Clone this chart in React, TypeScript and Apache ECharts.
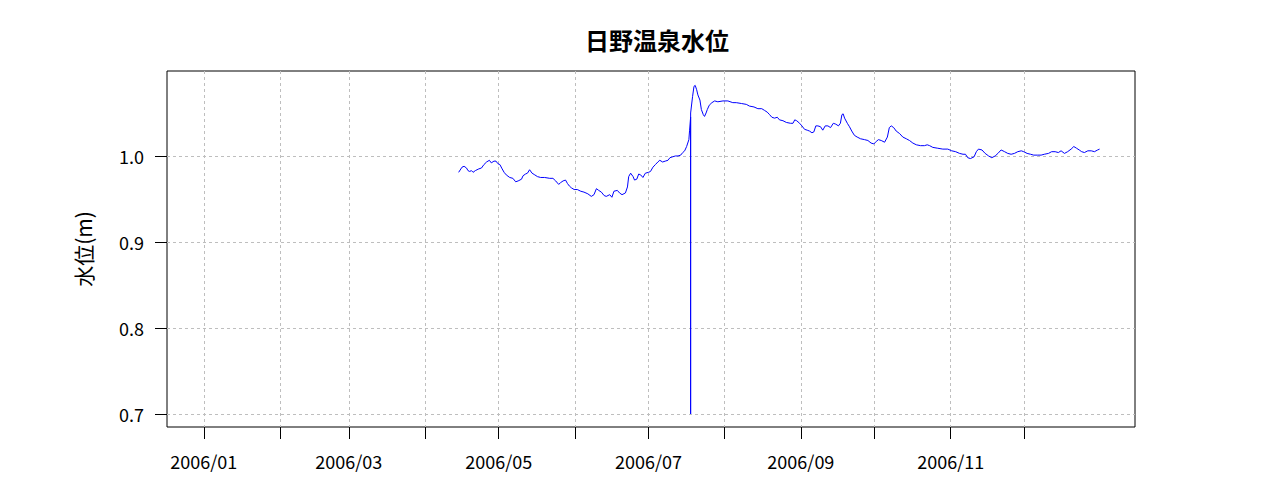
import React, { useEffect, useRef } from "react";
import * as echarts from "echarts";

const titleText = "日野温泉水位";
const yAxisName = "水位(m)";

const times = [
  "2006-04-14 17:00","2006-04-16 02:00","2006-04-16 22:00","2006-04-17 22:00","2006-04-18 12:00","2006-04-19 05:00","2006-04-19 22:00","2006-04-20 14:00","2006-04-21 12:00","2006-04-22 22:00",
  "2006-04-24 00:00","2006-04-25 00:00","2006-04-26 02:00","2006-04-27 05:00","2006-04-28 00:00","2006-04-29 02:00","2006-04-29 22:00","2006-04-30 17:00","2006-05-01 12:00","2006-05-02 10:00",
  "2006-05-03 05:00","2006-05-04 02:00","2006-05-05 12:00","2006-05-06 19:00","2006-05-07 22:00","2006-05-08 22:00","2006-05-10 07:00","2006-05-10 22:00","2006-05-11 22:00","2006-05-12 17:00",
  "2006-05-13 14:00","2006-05-14 14:00","2006-05-15 17:00","2006-05-16 19:00","2006-05-18 02:00","2006-05-19 17:00","2006-05-21 19:00","2006-05-23 02:00","2006-05-24 05:00","2006-05-25 10:00",
  "2006-05-26 05:00","2006-05-27 05:00","2006-05-28 05:00","2006-05-29 00:00","2006-05-29 19:00","2006-05-30 14:00","2006-05-31 17:00","2006-06-02 00:00","2006-06-03 10:00","2006-06-04 17:00",
  "2006-06-06 07:00","2006-06-07 17:00","2006-06-08 19:00","2006-06-09 19:00","2006-06-10 17:00","2006-06-11 19:00","2006-06-12 22:00","2006-06-13 19:00","2006-06-15 05:00","2006-06-16 02:00",
  "2006-06-16 22:00","2006-06-18 07:00","2006-06-19 05:00","2006-06-20 05:00","2006-06-21 14:00","2006-06-22 10:00","2006-06-22 22:00","2006-06-23 17:00","2006-06-24 17:00","2006-06-25 07:00",
  "2006-06-26 05:00","2006-06-27 00:00","2006-06-27 19:00","2006-06-28 17:00","2006-06-29 17:00","2006-07-01 00:00","2006-07-01 19:00","2006-07-02 19:00","2006-07-03 19:00","2006-07-04 19:00",
  "2006-07-05 14:00","2006-07-06 17:00","2006-07-07 19:00","2006-07-08 22:00","2006-07-09 17:00","2006-07-10 19:00","2006-07-11 22:00","2006-07-13 00:00","2006-07-14 02:00","2006-07-14 22:00",
  "2006-07-15 17:00","2006-07-16 12:00","2006-07-17 10:00","2006-07-17 17:00","2006-07-18 03:00","2006-07-18 03:05","2006-07-18 03:10","2006-07-18 22:00","2006-07-19 12:00","2006-07-20 00:00",
  "2006-07-20 14:00","2006-07-21 02:00","2006-07-21 22:00","2006-07-22 12:00","2006-07-23 07:00","2006-07-23 19:00","2006-07-24 10:00","2006-07-24 22:00","2006-07-25 17:00","2006-07-26 19:00",
  "2006-07-27 22:00","2006-07-29 05:00","2006-07-31 07:00","2006-08-02 07:00","2006-08-04 07:00","2006-08-05 17:00","2006-08-07 19:00","2006-08-09 19:00","2006-08-11 02:00","2006-08-12 22:00",
  "2006-08-14 12:00","2006-08-16 02:00","2006-08-17 05:00","2006-08-18 07:00","2006-08-19 07:00","2006-08-20 05:00","2006-08-21 07:00","2006-08-22 10:00","2006-08-23 07:00","2006-08-24 17:00",
  "2006-08-26 02:00","2006-08-27 19:00","2006-08-28 19:00","2006-08-29 12:00","2006-08-30 07:00","2006-08-31 12:00","2006-09-01 10:00","2006-09-02 12:00","2006-09-03 14:00","2006-09-04 12:00",
  "2006-09-05 12:00","2006-09-06 07:00","2006-09-07 02:00","2006-09-07 22:00","2006-09-09 00:00","2006-09-09 22:00","2006-09-10 22:00","2006-09-12 00:00","2006-09-13 02:00","2006-09-14 05:00",
  "2006-09-15 05:00","2006-09-16 07:00","2006-09-17 02:00","2006-09-17 17:00","2006-09-18 05:00","2006-09-18 19:00","2006-09-19 22:00","2006-09-20 19:00","2006-09-21 17:00","2006-09-22 19:00",
  "2006-09-23 22:00","2006-09-25 07:00","2006-09-26 22:00","2006-09-28 07:00","2006-09-29 14:00","2006-09-30 17:00","2006-10-01 17:00","2006-10-02 14:00","2006-10-03 17:00","2006-10-05 02:00",
  "2006-10-06 05:00","2006-10-07 00:00","2006-10-07 19:00","2006-10-08 19:00","2006-10-09 19:00","2006-10-11 05:00","2006-10-12 12:00","2006-10-13 22:00","2006-10-15 05:00","2006-10-16 14:00",
  "2006-10-18 00:00","2006-10-19 17:00","2006-10-21 07:00","2006-10-22 10:00","2006-10-23 10:00","2006-10-24 17:00","2006-10-26 17:00","2006-10-28 19:00","2006-10-30 19:00","2006-11-01 10:00",
  "2006-11-03 00:00","2006-11-04 14:00","2006-11-06 00:00","2006-11-07 00:00","2006-11-07 22:00","2006-11-09 00:00","2006-11-10 12:00","2006-11-11 10:00","2006-11-12 07:00","2006-11-13 17:00",
  "2006-11-15 00:00","2006-11-16 10:00","2006-11-17 17:00","2006-11-19 02:00","2006-11-20 05:00","2006-11-21 12:00","2006-11-22 22:00","2006-11-24 05:00","2006-11-25 14:00","2006-11-26 22:00",
  "2006-11-28 07:00","2006-11-29 17:00","2006-11-30 17:00","2006-12-02 02:00","2006-12-03 12:00","2006-12-04 19:00","2006-12-06 10:00","2006-12-07 19:00","2006-12-09 02:00","2006-12-10 19:00",
  "2006-12-12 02:00","2006-12-13 12:00","2006-12-14 19:00","2006-12-15 22:00","2006-12-17 07:00","2006-12-18 14:00","2006-12-20 00:00","2006-12-21 02:00","2006-12-22 05:00","2006-12-23 07:00",
  "2006-12-24 07:00","2006-12-25 10:00","2006-12-26 19:00","2006-12-28 05:00","2006-12-29 12:00","2006-12-30 19:00","2006-12-31 14:00"
];

const levels = [
  0.981,0.987,0.988,0.986,0.983,0.982,0.983,0.981,0.983,0.985,
  0.986,0.990,0.993,0.995,0.992,0.994,0.994,0.991,0.990,0.985,
  0.981,0.978,0.975,0.974,0.970,0.971,0.973,0.977,0.979,0.980,
  0.984,0.980,0.978,0.976,0.975,0.975,0.974,0.974,0.971,0.967,
  0.969,0.971,0.972,0.968,0.965,0.963,0.961,0.961,0.959,0.958,
  0.956,0.953,0.955,0.962,0.960,0.958,0.954,0.953,0.955,0.952,
  0.959,0.960,0.957,0.955,0.957,0.964,0.976,0.980,0.976,0.972,
  0.973,0.979,0.978,0.975,0.980,0.981,0.982,0.987,0.990,0.993,
  0.995,0.993,0.994,0.995,0.998,0.999,1.000,1.000,1.001,1.004,
  1.006,1.011,1.019,1.030,1.045,0.700,1.050,1.069,1.081,1.082,
  1.077,1.071,1.065,1.054,1.048,1.046,1.050,1.054,1.059,1.062,
  1.064,1.063,1.064,1.064,1.062,1.062,1.061,1.060,1.058,1.057,
  1.055,1.055,1.053,1.051,1.048,1.045,1.044,1.045,1.042,1.041,
  1.039,1.038,1.038,1.042,1.041,1.038,1.035,1.031,1.030,1.029,
  1.027,1.028,1.035,1.035,1.034,1.030,1.035,1.035,1.033,1.038,
  1.037,1.035,1.038,1.048,1.049,1.044,1.038,1.034,1.029,1.024,
  1.022,1.020,1.019,1.018,1.015,1.014,1.017,1.019,1.018,1.016,
  1.022,1.033,1.035,1.033,1.029,1.026,1.022,1.020,1.018,1.015,
  1.013,1.012,1.012,1.013,1.012,1.010,1.009,1.008,1.008,1.006,
  1.005,1.003,1.002,1.002,0.998,0.997,0.999,1.005,1.008,1.007,
  1.003,1.000,0.998,1.000,1.003,1.007,1.005,1.003,1.002,1.003,
  1.005,1.006,1.005,1.003,1.002,1.001,1.001,1.001,1.002,1.003,
  1.005,1.005,1.004,1.006,1.003,1.005,1.008,1.011,1.009,1.007,
  1.005,1.004,1.006,1.006,1.005,1.007,1.008
];

const tickMonths = [0, 1, 2, 3, 4, 5, 6, 7, 8, 9, 10, 11];
const labelMonths = [0, 2, 4, 6, 8, 10];
const yTicks = [0.7, 0.8, 0.9, 1.0];

function toTs(s: string): number {
  const [d, t] = s.split(" ");
  const [y, m, day] = d.split("-").map(Number);
  const [hh, mm] = t.split(":").map(Number);
  return new Date(y, m - 1, day, hh, mm).getTime();
}

export default function App() {
  const ref = useRef<HTMLDivElement>(null);
  useEffect(() => {
    document.body.style.margin = "0";
    const chart = echarts.init(ref.current!, null, { renderer: "svg" });
    const tickTs = tickMonths.map((m) => new Date(2006, m, 1).getTime());
    const labelTs = labelMonths.map((m) => new Date(2006, m, 1).getTime());
    const data = times.map((t, i) => [toTs(t), levels[i]]);
    const gridLine = { show: true, lineStyle: { color: "#bebebe", type: [3, 3] as any, width: 1 } };
    const labelFont = { fontFamily: "Noto Sans CJK JP", fontSize: 18, color: "#000" };
    chart.setOption({
      animation: false,
      title: {
        text: titleText,
        left: 652,
        textAlign: "center",
        top: 22,
        textStyle: { fontFamily: "Noto Sans CJK JP", fontSize: 24, fontWeight: "bold", color: "#000" },
      },
      grid: {
        left: 167,
        right: 145,
        top: 71,
        bottom: 73,
        show: true,
        borderColor: "#000",
        borderWidth: 1,
        containLabel: false,
      },
      xAxis: {
        type: "value",
        min: new Date(2005, 11, 17).getTime(),
        max: new Date(2007, 0, 15).getTime(),
        axisLine: { show: false },
        axisTick: { show: true, length: 12, inside: false, customValues: tickTs, lineStyle: { color: "#000" } },
        axisLabel: {
          show: true,
          customValues: labelTs,
          margin: 25,
          showMinLabel: true,
          showMaxLabel: true,
          ...labelFont,
          formatter: (v: number) => {
            const d = new Date(v);
            return d.getFullYear() + "/" + String(d.getMonth() + 1).padStart(2, "0");
          },
        },
        splitLine: gridLine,
      },
      yAxis: {
        type: "value",
        min: 0.6849,
        max: 1.0988,
        name: yAxisName,
        nameLocation: "middle",
        nameGap: 74,
        nameTextStyle: { fontFamily: "Noto Sans CJK JP", fontSize: 21, color: "#000" },
        axisLine: { show: false },
        axisTick: { show: true, length: 12, inside: false, customValues: yTicks, lineStyle: { color: "#000" } },
        axisLabel: {
          show: true,
          customValues: yTicks,
          margin: 23,
          ...labelFont,
          formatter: (v: number) => v.toFixed(1),
        },
        splitLine: gridLine,
      },
      series: [
        {
          type: "line",
          data,
          showSymbol: false,
          symbol: "none",
          lineStyle: { color: "#0000ff", width: 1 },
          itemStyle: { color: "#0000ff" },
        },
      ],
    });
    return () => chart.dispose();
  }, []);
  return <div ref={ref} style={{ width: 1280, height: 500, position: "absolute", left: 0, top: 0 }} />;
}
